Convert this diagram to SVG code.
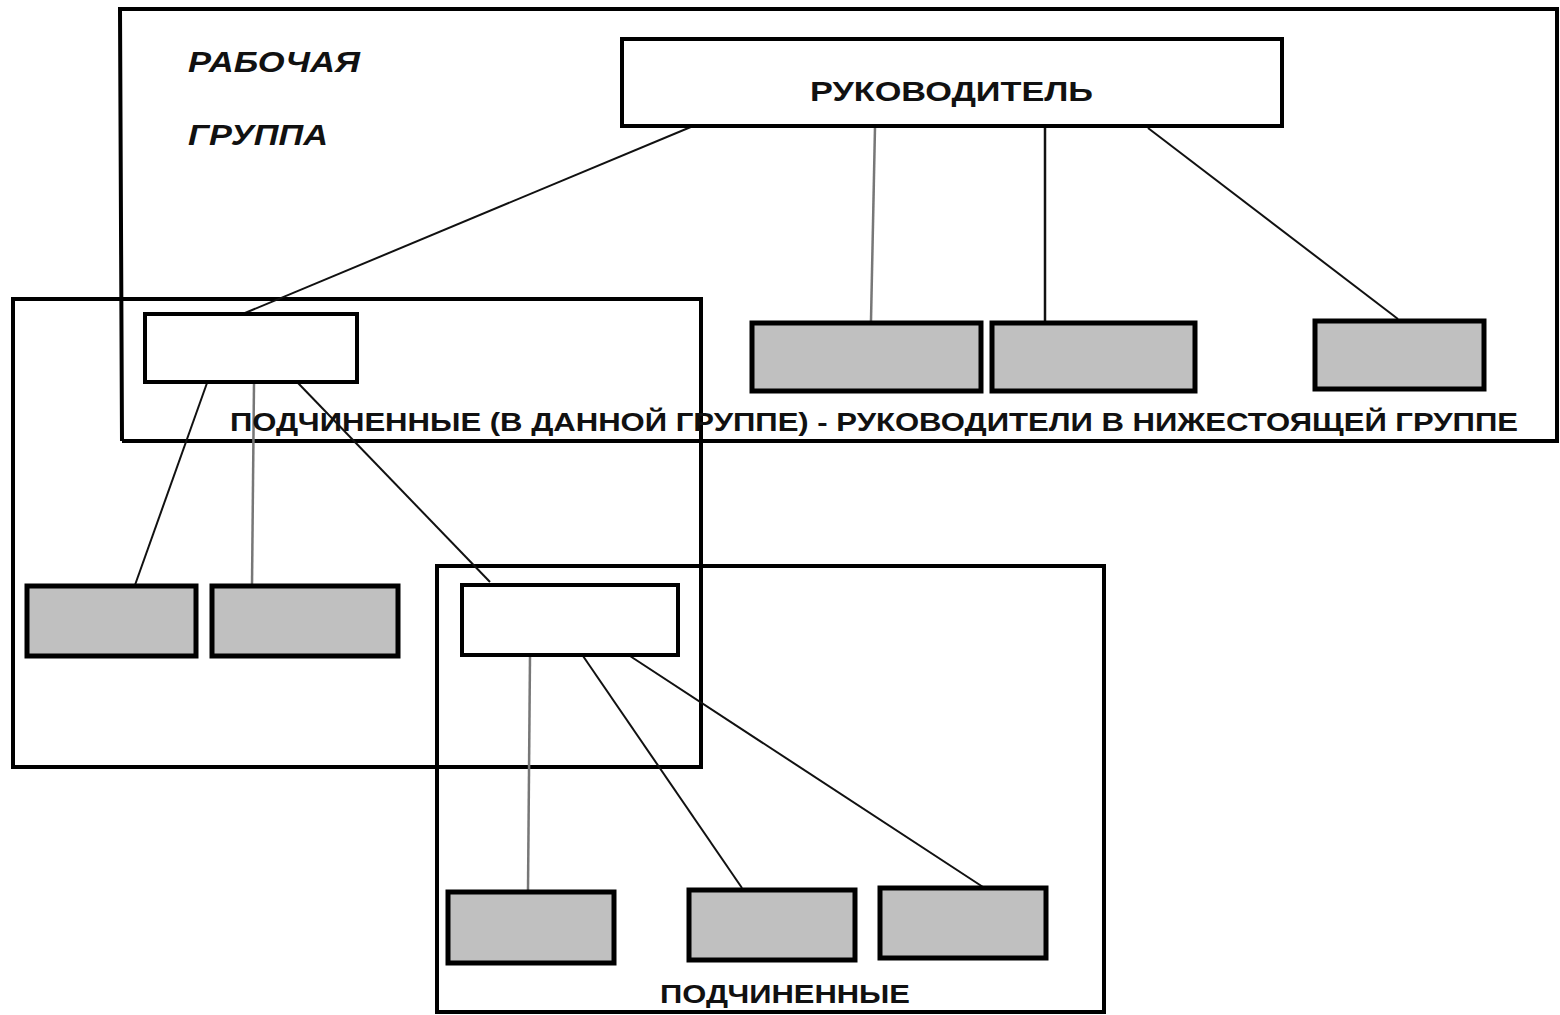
<svg xmlns="http://www.w3.org/2000/svg" width="1560" height="1015" viewBox="0 0 1560 1015">
<style>
.grp{fill:none;stroke:#000;stroke-width:4}
.wbox{fill:#fff;stroke:#000;stroke-width:4}
.gbox{fill:#c0c0c0;stroke:#000;stroke-width:5}
.con{stroke:#111;stroke-width:2;fill:none}
.cong{stroke:#777;stroke-width:2.5;fill:none}
.t{font-family:"Liberation Sans",Arial,sans-serif;font-weight:bold;fill:#111}
.ti{font-family:"Liberation Sans",Arial,sans-serif;font-weight:bold;font-style:italic;fill:#111}
</style>
<rect width="1560" height="1015" fill="#fff"/>
<g id="group-top">
<polyline class="grp" points="122,441 120,9 1557,9 1557,441 122,441"/>
<text class="ti" x="188" y="72" font-size="29" textLength="172" lengthAdjust="spacingAndGlyphs">РАБОЧАЯ</text>
<text class="ti" x="188" y="145" font-size="29" textLength="140" lengthAdjust="spacingAndGlyphs">ГРУППА</text>
</g>
<g id="group-mid">
<rect class="grp" x="13" y="299" width="688" height="468"/>
</g>
<g id="group-bottom">
<rect class="grp" x="437" y="566" width="667" height="446"/>
<text class="t" x="660" y="1003" font-size="25" textLength="250" lengthAdjust="spacingAndGlyphs">ПОДЧИНЕННЫЕ</text>
</g>
<g id="connectors">
<line class="con" x1="698" y1="124" x2="245" y2="313"/>
<line class="cong" x1="875" y1="127" x2="871" y2="321"/>
<line class="con" x1="1045" y1="127" x2="1045" y2="321" style="stroke-width:2.5"/>
<line class="con" x1="1148" y1="128" x2="1398" y2="319"/>
<line class="con" x1="207" y1="383" x2="135" y2="585"/>
<line class="cong" x1="254" y1="383" x2="252" y2="585"/>
<line class="con" x1="298" y1="383" x2="490" y2="582"/>
<line class="cong" x1="530" y1="656" x2="528" y2="890"/>
<line class="con" x1="583" y1="656" x2="742" y2="888"/>
<line class="con" x1="630" y1="656" x2="983" y2="887"/>
</g>
<g id="label-mid">
<text class="t" x="230" y="431" font-size="26" textLength="1288" lengthAdjust="spacingAndGlyphs">ПОДЧИНЕННЫЕ (В ДАННОЙ ГРУППЕ) - РУКОВОДИТЕЛИ В НИЖЕСТОЯЩЕЙ ГРУППЕ</text>
</g>
<g id="node-head">
<rect class="wbox" x="622" y="39" width="660" height="87"/>
<text class="t" x="810" y="101" font-size="28" textLength="283" lengthAdjust="spacingAndGlyphs">РУКОВОДИТЕЛЬ</text>
</g>
<g id="node-sub1"><rect class="wbox" x="145" y="314" width="212" height="68"/></g>
<g id="node-g1"><rect class="gbox" x="752" y="323" width="229" height="68"/></g>
<g id="node-g2"><rect class="gbox" x="992" y="323" width="203" height="68"/></g>
<g id="node-g3"><rect class="gbox" x="1315" y="321" width="169" height="68"/></g>
<g id="node-g4"><rect class="gbox" x="27" y="586" width="169" height="70"/></g>
<g id="node-g5"><rect class="gbox" x="212" y="586" width="186" height="70"/></g>
<g id="node-sub2"><rect class="wbox" x="462" y="585" width="216" height="70"/></g>
<g id="node-g6"><rect class="gbox" x="448" y="892" width="166" height="71"/></g>
<g id="node-g7"><rect class="gbox" x="689" y="890" width="166" height="70"/></g>
<g id="node-g8"><rect class="gbox" x="880" y="888" width="166" height="70"/></g>
</svg>
